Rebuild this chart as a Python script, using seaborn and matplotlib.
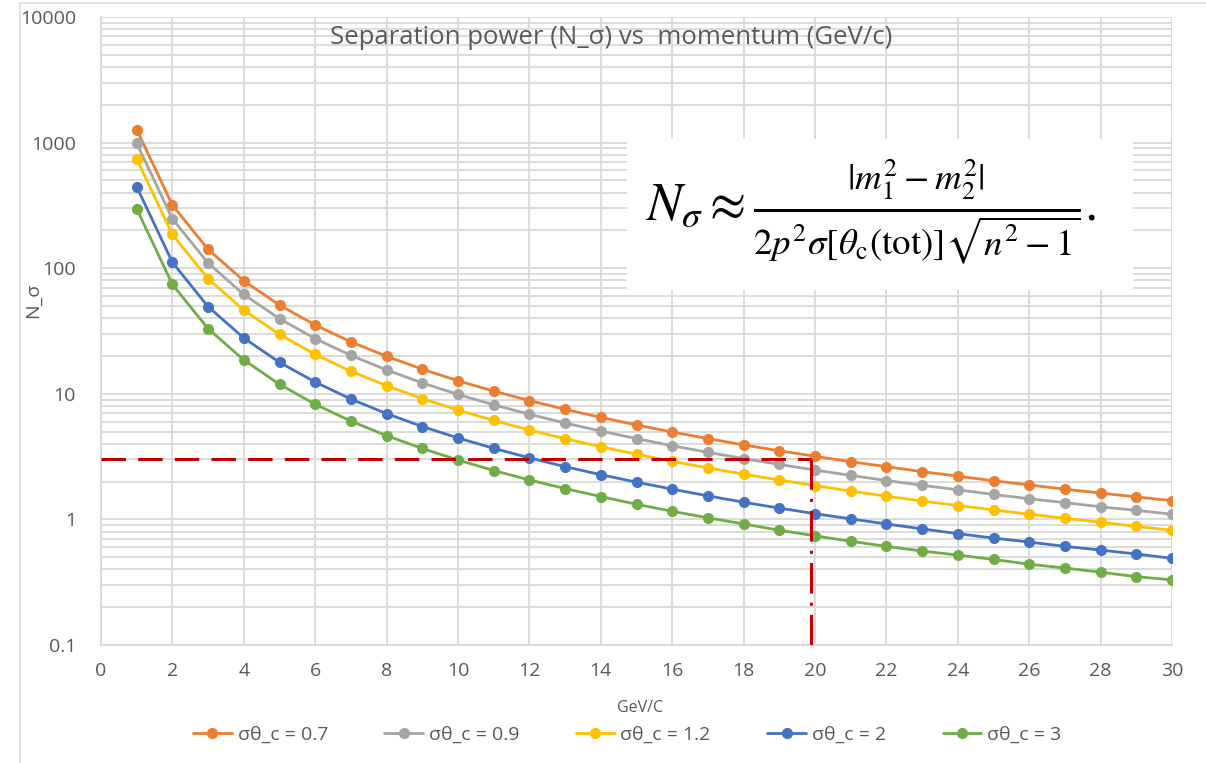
import matplotlib
matplotlib.use("Agg")
import matplotlib.pyplot as plt
import matplotlib.patches as mpatches
from matplotlib.lines import Line2D
from matplotlib.ticker import FixedLocator, NullFormatter, LogLocator
import numpy as np
import pandas as pd
import seaborn as sns

# Momentum (GeV/c)
momentum = list(range(1, 31))

# Separation power N_sigma for each Cherenkov angle resolution
n_sigma_07 = [1271, 317.8, 141.2, 79.4, 50.8, 35.3, 25.9, 19.9, 15.7, 12.7,
              10.5, 8.83, 7.52, 6.49, 5.65, 4.96, 4.40, 3.92, 3.52, 3.18,
              2.88, 2.63, 2.40, 2.21, 2.03, 1.88, 1.74, 1.62, 1.51, 1.41]
n_sigma_09 = [989, 247, 109.9, 61.8, 39.6, 27.5, 20.2, 15.5, 12.2, 9.89,
              8.17, 6.87, 5.85, 5.05, 4.40, 3.86, 3.42, 3.05, 2.74, 2.47,
              2.24, 2.04, 1.87, 1.72, 1.58, 1.46, 1.36, 1.26, 1.18, 1.10]
n_sigma_12 = [742, 185.5, 82.4, 46.4, 29.7, 20.6, 15.1, 11.6, 9.16, 7.42,
              6.13, 5.15, 4.39, 3.79, 3.30, 2.90, 2.57, 2.29, 2.06, 1.86,
              1.68, 1.53, 1.40, 1.29, 1.19, 1.10, 1.02, 0.95, 0.88, 0.82]
n_sigma_2 = [445, 111.3, 49.4, 27.8, 17.8, 12.4, 9.08, 6.95, 5.49, 4.45,
             3.68, 3.09, 2.63, 2.27, 1.98, 1.74, 1.54, 1.37, 1.23, 1.11,
             1.01, 0.92, 0.84, 0.77, 0.71, 0.66, 0.61, 0.57, 0.53, 0.49]
n_sigma_3 = [297, 74.2, 33.0, 18.6, 11.9, 8.25, 6.06, 4.64, 3.67, 2.97,
             2.45, 2.06, 1.76, 1.52, 1.32, 1.16, 1.03, 0.92, 0.82, 0.74,
             0.67, 0.61, 0.56, 0.52, 0.48, 0.44, 0.41, 0.38, 0.35, 0.33]

series_labels = ["σθ_c = 0.7", "σθ_c = 0.9", "σθ_c = 1.2", "σθ_c = 2", "σθ_c = 3"]
series_values = [n_sigma_07, n_sigma_09, n_sigma_12, n_sigma_2, n_sigma_3]
series_colors = ["#ED7D31", "#A5A5A5", "#FFC000", "#4472C4", "#70AD47"]

# Threshold guide: 3 sigma separation reached at ~20 GeV/c
threshold_nsigma = 3
threshold_momentum = 19.9

x_ticks = list(range(0, 31, 2))
y_ticks = [0.1, 1, 10, 100, 1000, 10000]
y_tick_labels = ["0.1", "1", "10", "100", "1000", "10000"]

df = pd.DataFrame({
    "p": momentum * len(series_labels),
    "n": sum(series_values, []),
    "series": sum([[lab] * len(momentum) for lab in series_labels], []),
})

sns.set_style("white")
plt.rcParams["font.family"] = ["Open Sans", "DejaVu Sans"]
plt.rcParams["mathtext.fontset"] = "stix"

fig = plt.figure(figsize=(12.06, 7.63), dpi=100)
ax = fig.add_axes([101 / 1206, 1 - 645 / 763, (1172 - 101) / 1206, (645 - 17) / 763])

text_color = "#595959"
grid_color = "#D9D9D9"

# Chart frame
fig.patches.append(mpatches.Rectangle((20 / 1206, -0.01), 1.2, 1 - 3 / 763 + 0.01,
                                      transform=fig.transFigure, fill=False,
                                      edgecolor="#D9D9D9", linewidth=1.2, zorder=0))

ax.set_yscale("log")
ax.set_xlim(0, 30)
ax.set_ylim(0.1, 10000)

for lab, col in zip(series_labels, series_colors):
    sub = df[df["series"] == lab]
    sns.lineplot(data=sub, x="p", y="n", ax=ax, color=col, marker="o",
                 markersize=8, markeredgewidth=0, linewidth=2.0, zorder=3,
                 legend=False)

# Threshold guide lines
ax.plot([0, threshold_momentum], [threshold_nsigma, threshold_nsigma],
        color="#C00000", linewidth=2.2, linestyle=(0, (8, 4)), zorder=4)
ax.plot([threshold_momentum, threshold_momentum], [0.1, threshold_nsigma],
        color="#C00000", linewidth=2.2, linestyle=(0, (10, 3, 1, 3)), zorder=4)

# Grid
ax.xaxis.set_major_locator(FixedLocator(x_ticks))
ax.yaxis.set_major_locator(FixedLocator(y_ticks))
ax.yaxis.set_minor_locator(LogLocator(base=10, subs=np.arange(2, 10)))
ax.yaxis.set_minor_formatter(NullFormatter())
ax.set_yticklabels(y_tick_labels)
ax.grid(True, which="major", axis="both", color=grid_color, linewidth=1.3, zorder=0)
ax.grid(True, which="minor", axis="y", color=grid_color, linewidth=1.3, zorder=0)
ax.set_axisbelow(True)

for side in ["top", "right"]:
    ax.spines[side].set_visible(False)
for side in ["left", "bottom"]:
    ax.spines[side].set_color(grid_color)
    ax.spines[side].set_linewidth(1.3)

ax.tick_params(axis="both", which="both", length=0, labelsize=14,
               labelcolor=text_color)
ax.tick_params(axis="x", pad=12)
ax.tick_params(axis="y", pad=18)

ax.set_xlabel("GeV/C", fontsize=11.5, color=text_color)
ax.xaxis.set_label_coords((640 - 101) / 1071, -(708 - 645) / 628)
ax.xaxis.label.set_verticalalignment("center")
ax.set_ylabel("N_σ", fontsize=14, color=text_color)
ax.yaxis.set_label_coords((42 - 101) / 1071, (645 - 300) / 628)

# Title
fig.text(611 / 1206, 1 - 38 / 763, "Separation power (N_σ) vs  momentum (GeV/c)",
         ha="center", va="center", fontsize=18.5, color=text_color)

# Formula panel
ax.add_patch(mpatches.Rectangle((627 / 1206, 1 - 290 / 763), (1133 - 627) / 1206,
                                (290 - 139) / 763, transform=fig.transFigure,
                                facecolor="white", edgecolor="none", zorder=5))
fig.text(871 / 1206, 1 - 212 / 763,
         r"$N_\sigma \approx \frac{|m_1^2 - m_2^2|}{2p^2\sigma[\theta_{\mathrm{c}}(\mathrm{tot})]\sqrt{n^2 - 1}}.$",
         ha="center", va="center", fontsize=38, color="black", zorder=6)

# Legend
handles = [Line2D([0], [0], color=c, marker="o", markersize=8, markeredgewidth=0,
                  linewidth=2.0) for c in series_colors]
fig.legend(handles, series_labels, loc="center", bbox_to_anchor=(0.52, 1 - 735 / 763),
           ncol=5, frameon=False, fontsize=14, labelcolor=text_color,
           handlelength=2.0, handletextpad=0.3, columnspacing=2.9)

fig.savefig("out.png", dpi=100)
